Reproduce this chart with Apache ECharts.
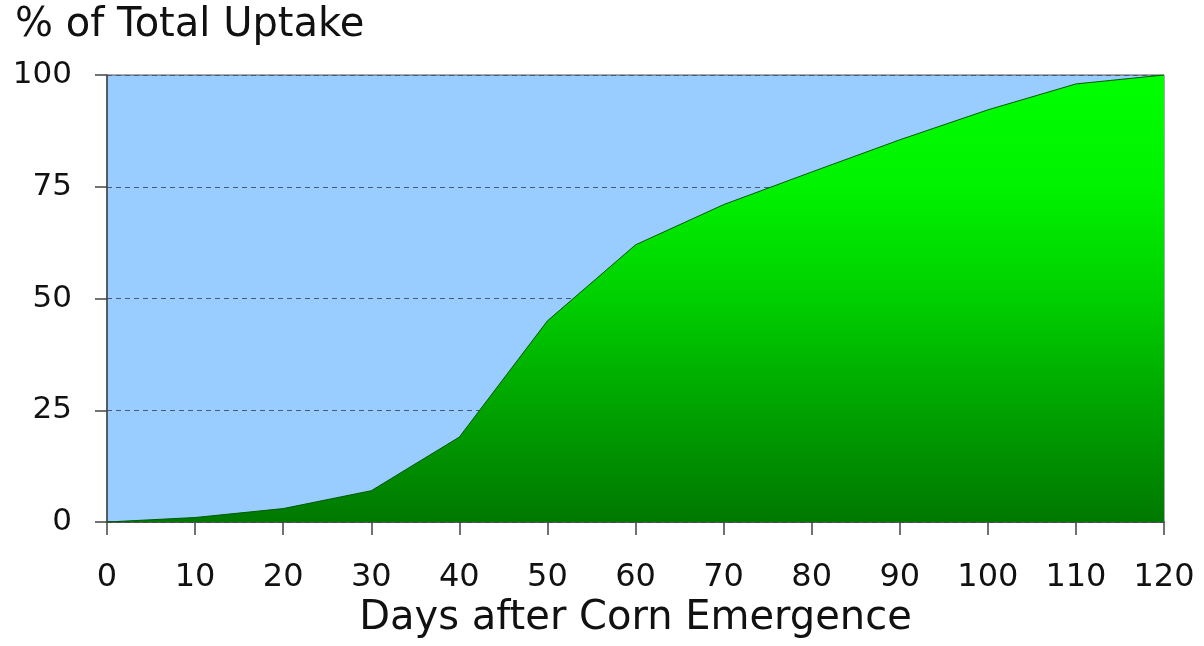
<!DOCTYPE html>
<html>
<head>
<meta charset="utf-8">
<script src="https://cdn.jsdelivr.net/npm/echarts@6/dist/echarts.min.js"></script>
<style>
  html, body { margin: 0; padding: 0; background: #fff; }
  #main { width: 1204px; height: 646px; }
</style>
</head>
<body>
<div id="main"></div>
<script>
// days after emergence and cumulative uptake (%)
var days = [0, 10, 20, 30, 40, 50, 60, 70, 80, 90, 100, 110, 120];
var uptake = [0, 1, 3, 7, 19, 45, 62, 71, 78.3, 85.5, 92.2, 98, 100];
var yTicks = [0, 25, 50, 75, 100];

var chart = echarts.init(document.getElementById('main'));

var points = [];
for (var i = 0; i < days.length; i++) {
  points.push([days[i], uptake[i]]);
}

var option = {
  backgroundColor: '#fff',
  textStyle: { fontFamily: 'DejaVu Sans' },
  title: {
    text: '% of Total Uptake',
    left: 10,
    top: 1,
    textStyle: { fontSize: 40, fontWeight: 'normal', color: '#111' }
  },
  grid: {
    left: 107,
    right: 40,
    top: 75,
    bottom: 124,
    show: true,
    backgroundColor: '#99ccff',
    borderColor: '#555',
    borderWidth: 1
  },
  xAxis: {
    type: 'value',
    min: 0,
    max: 120,
    interval: 10,
    name: 'Days after Corn Emergence',
    nameLocation: 'middle',
    nameGap: 76,
    nameTextStyle: { fontSize: 40, fontWeight: 'normal', color: '#111' },
    axisLine: { show: true, lineStyle: { color: '#444', width: 1.5 } },
    axisTick: { show: true, length: 13, lineStyle: { color: '#444', width: 1.5 } },
    axisLabel: { fontSize: 32, color: '#111', margin: 40 },
    splitLine: { show: false }
  },
  yAxis: {
    type: 'value',
    min: yTicks[0],
    max: yTicks[yTicks.length - 1],
    interval: 25,
    axisLine: { show: true, lineStyle: { color: '#444', width: 1.5 } },
    axisTick: { show: true, length: 12, lineStyle: { color: '#444', width: 1.5 } },
    axisLabel: { fontSize: 31, color: '#111', margin: 35 },
    splitLine: {
      show: true,
      lineStyle: { color: '#4a5878', type: [5, 4], width: 1 }
    }
  },
  series: [{
    type: 'line',
    data: points,
    symbol: 'none',
    lineStyle: { color: '#005a00', width: 1 },
    areaStyle: {
      opacity: 1,
      color: new echarts.graphic.LinearGradient(0, 0, 0, 1, [
        { offset: 0, color: '#00ff00' },
        { offset: 0.25, color: '#00f200' },
        { offset: 0.5, color: '#00cf00' },
        { offset: 0.75, color: '#00a200' },
        { offset: 1, color: '#007800' }
      ])
    }
  }]
};

chart.setOption(option);
</script>
</body>
</html>
